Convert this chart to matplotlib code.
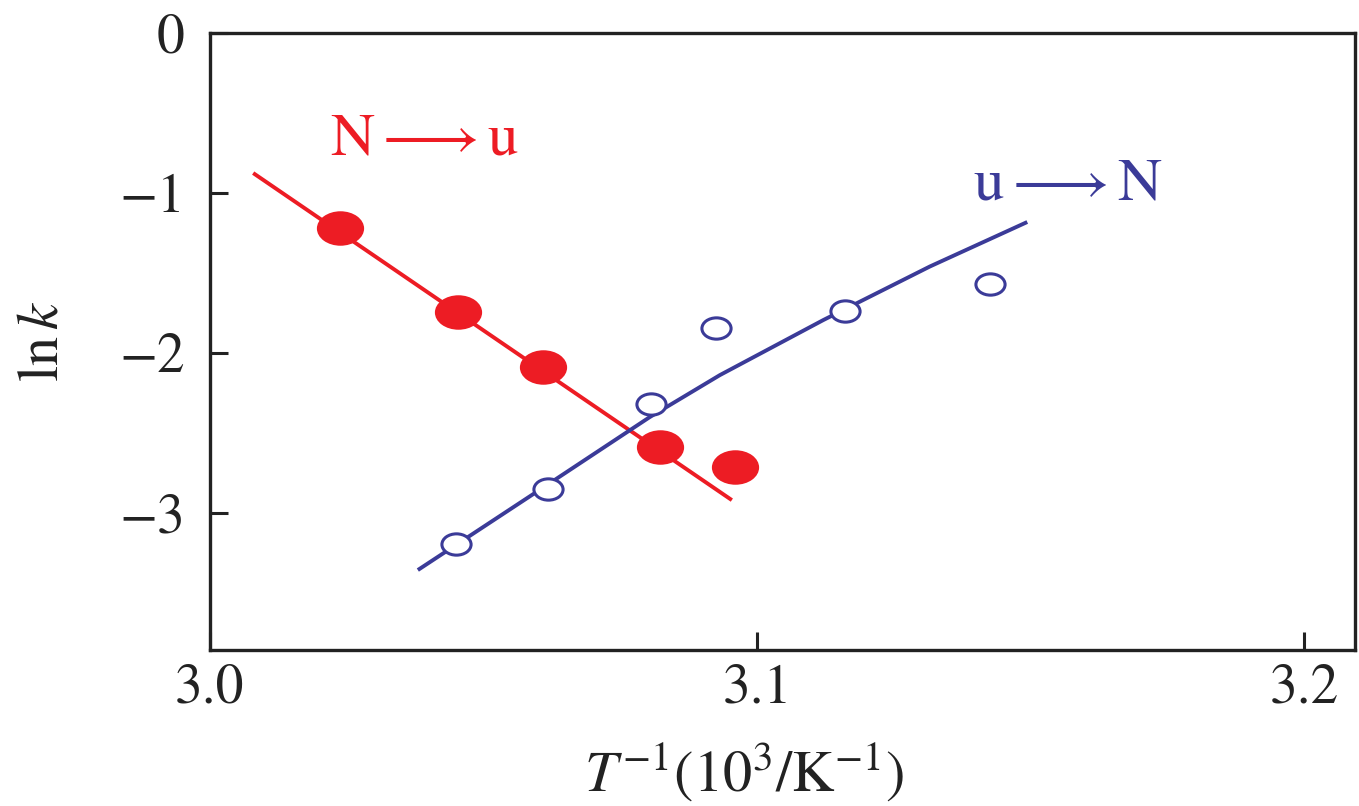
import matplotlib
matplotlib.use("Agg")
import matplotlib.pyplot as plt
from matplotlib.path import Path
import numpy as np

plt.rcParams['font.family'] = ['STIXGeneral', 'DejaVu Sans']
plt.rcParams['mathtext.fontset'] = 'stix'

RED = '#ED1C24'
BLUE = '#3B3B98'
INK = '#222222'

# N -> u (filled red) data points and fitted line
nu_x = [3.0238, 3.0453, 3.0609, 3.0823, 3.0960]
nu_y = [-1.219, -1.744, -2.088, -2.588, -2.713]
nu_fit_x = [3.0079, 3.0954]
nu_fit_y = [-0.875, -2.919]

# u -> N (open blue) data points and fitted curve
un_x = [3.0450, 3.0618, 3.0806, 3.0925, 3.1161, 3.1426]
un_y = [-3.194, -2.850, -2.319, -1.844, -1.738, -1.569]
un_fit_x = [3.0380, 3.0616, 3.0804, 3.0932, 3.1121, 3.1316, 3.1494]
un_fit_y = [-3.356, -2.825, -2.400, -2.138, -1.794, -1.459, -1.181]

x_ticks = [3.0, 3.1, 3.2]
x_ticklabels = ['3.0', '3.1', '3.2']
y_ticks = [0, -1, -2, -3]
y_ticklabels = ['0', '\u22121', '\u22122', '\u22123']

# slightly wide ellipse marker (the source picture is stretched sideways)
circ = Path.unit_circle()
ellipse = Path(circ.vertices * np.array([1.37, 1.0]), circ.codes)

fig = plt.figure(figsize=(13.59, 8.06), dpi=100)
ax = fig.add_axes([0.1545, 0.1935, 0.8425, 0.7655])

ax.plot(nu_fit_x, nu_fit_y, color=RED, lw=2.8, solid_capstyle='butt', zorder=2)
ax.plot(nu_x, nu_y, ls='none', marker=ellipse, ms=34, mfc=RED, mec=RED, mew=0, zorder=3)

ax.plot(un_fit_x, un_fit_y, color=BLUE, lw=2.8, solid_capstyle='butt',
        solid_joinstyle='round', zorder=2)
ax.plot(un_x, un_y, ls='none', marker=ellipse, ms=21, mfc='white', mec=BLUE, mew=2.2, zorder=3)

ax.text(3.0393, -0.669, r'N$\longrightarrow$u', color=RED, fontsize=44,
        ha='center', va='center')
ax.text(3.1569, -0.95, r'u$\longrightarrow$N', color=BLUE, fontsize=44,
        ha='center', va='center')

ax.set_xlim(3.0, 3.2093)
ax.set_ylim(-3.856, 0)
ax.set_xticks(x_ticks)
ax.set_xticklabels(x_ticklabels)
ax.set_yticks(y_ticks)
ax.set_yticklabels(y_ticklabels)

ax.tick_params(direction='in', length=13, width=2.2, colors=INK, labelsize=40)
ax.tick_params(axis='x', pad=10)
ax.tick_params(axis='y', pad=18)
for s in ax.spines.values():
    s.set_linewidth(2.4)
    s.set_color(INK)

ax.set_xlabel(r'$T^{-1}$(10$^{3}$/K$^{-1}$)', fontsize=42, color=INK)
ax.xaxis.set_label_coords(0.467, -0.2)
ax.set_ylabel(r'ln$\,k$', fontsize=42, color=INK)
ax.yaxis.set_label_coords(-0.145, 0.5)
ax.yaxis.label.set_verticalalignment('center')
ax.xaxis.label.set_verticalalignment('center')

fig.savefig('out.png', dpi=100)
